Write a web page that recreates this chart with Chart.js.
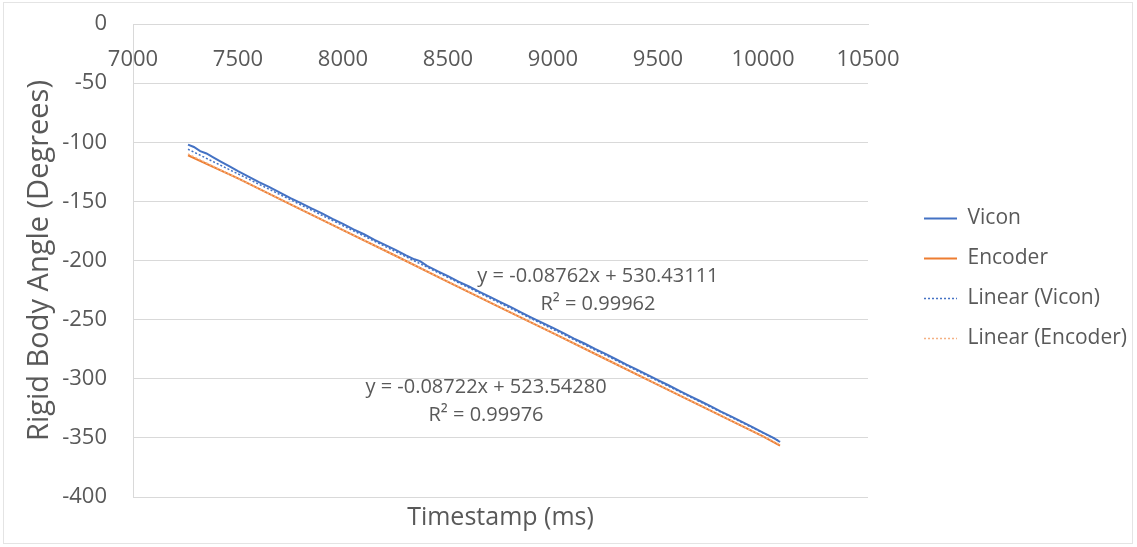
<!DOCTYPE html>
<html>
<head>
<meta charset="utf-8">
<script src="https://cdn.jsdelivr.net/npm/chart.js@4.4.1/dist/chart.umd.min.js"></script>
<style>
  html, body { margin: 0; padding: 0; background: #fff; }
  #wrap { position: absolute; left: 0; top: 0; width: 1137px; height: 547px; }
  #frame { position: absolute; left: 3px; top: 2px; width: 1130px; height: 542px; border: 1px solid #e4e4e4; box-sizing: border-box; }
</style>
</head>
<body>
<div id="wrap">
  <div id="frame"></div>
  <canvas id="myChart" width="1137" height="547"></canvas>
</div>
<script>
// timestamps (ms) and angles (deg)
const viconT = [7262, 7290, 7320, 7350, 7380, 7420, 7460, 7500, 7550, 7600, 7650, 7700, 7750, 7800, 7850, 7900, 7950, 8000,
  8050, 8100, 8150, 8200, 8250, 8300, 8340, 8367, 8400, 8450, 8500, 8550, 8600, 8650, 8700, 8750, 8800, 8850, 8900, 8950,
  9000, 9050, 9100, 9150, 9200, 9250, 9300, 9350, 9400, 9450, 9500, 9550, 9600, 9650, 9700, 9750, 9800, 9850, 9900, 9950,
  10000, 10050, 10081]
const viconA = [-102.0, -104.0, -107.5, -109.5, -112.5, -116.5, -120.5, -124.5, -129.0, -133.8, -138.0, -142.6, -147.2, -151.5, -156.0, -160.2, -164.8, -169.0,
  -173.6, -177.8, -182.5, -186.8, -191.0, -195.6, -199.0, -200.5, -204.5, -209.0, -213.2, -217.8, -222.0, -226.5, -230.8, -235.2, -239.5, -244.0, -248.5, -252.8,
  -257.0, -261.5, -266.0, -270.2, -274.8, -279.0, -283.5, -288.0, -292.2, -296.8, -301.2, -305.5, -310.0, -314.5, -318.8, -323.2, -327.8, -332.0, -336.5, -341.0,
  -345.5, -350.0, -353.5]

const encoderT = [7262, 7500, 7750, 8000, 8250, 8500, 8750, 9000, 9250, 9500, 9750, 10000, 10081]
const encoderA = [-111.0, -130.6, -152.5, -174.3, -196.0, -218.0, -239.8, -261.4, -283.3, -305.2, -327.0, -348.8, -356.5]

// trendline ends
const trendT = [7262, 10081]
const trendViconA = [-105.9, -352.9]
const trendEncoderA = [-109.9, -355.7]

const yTicks = [0, -50, -100, -150, -200, -250, -300, -350, -400]

// equation labels: [text, x, y] in data units
const eqLabels = [
  ['y = -0.08762x + 530.43111', 9214, -213.1],
  ['R\u00b2 = 0.99962', 9214, -236.8],
  ['y = -0.08722x + 523.54280', 8681, -307.0],
  ['R\u00b2 = 0.99976', 8681, -330.7]
]

const BLUE = '#4472C4'
const ORANGE = '#ED7D31'
const GREY = '#595959'
const FONT = '"Open Sans", sans-serif'

const toXY = (t, a) => t.map((v, i) => ({x: v, y: a[i]}))

const eqPlugin = {
  id: 'eqText',
  afterDatasetsDraw(chart) {
    const {ctx, scales} = chart
    ctx.save()
    ctx.font = '20px ' + FONT
    ctx.fillStyle = GREY
    ctx.textAlign = 'center'
    ctx.textBaseline = 'middle'
    eqLabels.forEach(([txt, x, y]) => {
      ctx.fillText(txt, scales.x.getPixelForValue(x), scales.y.getPixelForValue(y))
    })
    ctx.restore()
  }
}

Chart.defaults.font.family = FONT
Chart.defaults.color = GREY

new Chart('myChart', {
  type: 'line',
  data: {
    datasets: [{
      label: 'Vicon',
      data: toXY(viconT, viconA),
      borderColor: BLUE,
      backgroundColor: BLUE,
      borderWidth: 2,
      pointRadius: 0,
      order: 4
    }, {
      label: 'Encoder',
      data: toXY(encoderT, encoderA),
      borderColor: ORANGE,
      backgroundColor: ORANGE,
      borderWidth: 2,
      pointRadius: 0,
      order: 3
    }, {
      label: 'Linear (Vicon)',
      data: toXY(trendT, trendViconA),
      borderColor: BLUE,
      backgroundColor: BLUE,
      borderWidth: 1.5,
      borderDash: [2, 2],
      pointRadius: 0,
      order: 2
    }, {
      label: 'Linear (Encoder)',
      data: toXY(trendT, trendEncoderA),
      borderColor: '#F4B183',
      backgroundColor: '#F4B183',
      borderWidth: 1.5,
      borderDash: [2, 2],
      pointRadius: 0,
      order: 1
    }]
  },
  options: {
    responsive: false,
    animation: false,
    layout: {padding: {left: 8, top: 24, right: 0, bottom: 14}},
    plugins: {
      legend: {
        position: 'right',
        maxWidth: 320,
        labels: {
          usePointStyle: true,
          pointStyle: 'line',
          pointStyleWidth: 33,
          padding: 19,
          color: GREY,
          font: {size: 21},
          sort: (a, b) => a.datasetIndex - b.datasetIndex,
          generateLabels: chart => Chart.defaults.plugins.legend.labels.generateLabels(chart).map(l => {
            const ds = chart.data.datasets[l.datasetIndex]
            l.lineDash = ds.borderDash || []
            l.lineWidth = ds.borderWidth
            l.strokeStyle = ds.borderColor
            return l
          })
        }
      },
      tooltip: {enabled: false}
    },
    scales: {
      x: {
        type: 'linear',
        position: {y: 0},
        min: 7000,
        max: 10500,
        ticks: {stepSize: 500, color: GREY, font: {size: 22}, padding: 23, callback: v => String(v)},
        grid: {display: false, drawTicks: false},
        border: {display: true, color: '#d9d9d9'}
      },
      xTitle: {
        type: 'linear',
        position: 'bottom',
        min: 7000,
        max: 10500,
        ticks: {display: false},
        grid: {display: false, drawTicks: false},
        border: {display: false},
        title: {display: true, text: 'Timestamp (ms)', color: GREY, font: {size: 25}, padding: {top: 6, bottom: 0}}
      },
      y: {
        min: -400,
        max: 0,
        afterBuildTicks: s => { s.ticks = yTicks.map(v => ({value: v})) },
        afterFit: s => {
          s.width = 125
          s.paddingTop = 0
          s.paddingBottom = 0
        },
        ticks: {color: GREY, font: {size: 22}, padding: 26},
        grid: {color: '#d9d9d9', drawTicks: false},
        border: {display: true, color: '#d9d9d9'},
        title: {display: true, text: 'Rigid Body Angle (Degrees)', color: GREY, font: {size: 29}, padding: {top: 14, bottom: 0}}
      },
      yPad: {
        position: 'right',
        min: 0,
        max: 1,
        ticks: {display: false},
        grid: {display: false, drawTicks: false},
        border: {display: false},
        afterFit: s => { s.width = 37 }
      }
    }
  },
  plugins: [eqPlugin]
})
</script>
</body>
</html>
